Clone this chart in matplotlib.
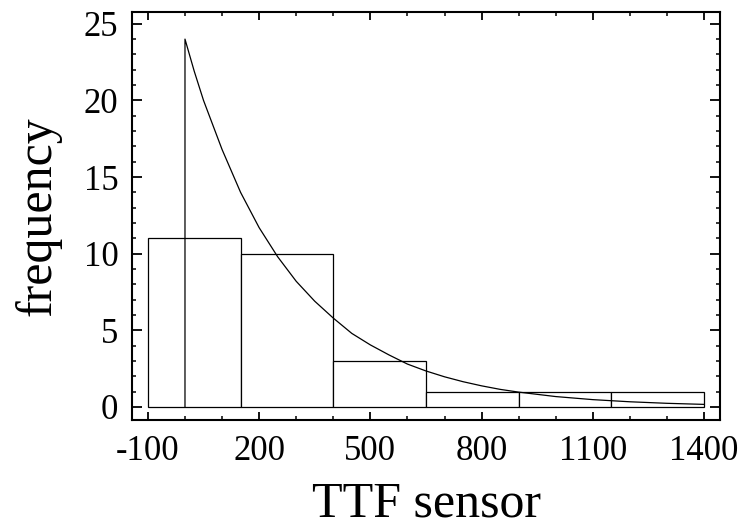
import matplotlib
matplotlib.use("Agg")
import matplotlib.pyplot as plt
from matplotlib.ticker import MultipleLocator, FixedLocator

plt.rcParams['font.family'] = ['Liberation Serif', 'DejaVu Serif']

# Histogram data
bin_edges = [-100, 150, 400, 650, 900, 1150, 1400]
counts = [11, 10, 3, 1, 1, 1]

# Fitted curve points
curve_x = [0, 0, 25, 50, 100, 150, 200, 250, 300, 350, 400, 450, 500, 550, 600,
           650, 700, 750, 800, 850, 900, 1000, 1100, 1200, 1300, 1400]
curve_y = [0, 24.0, 21.9, 20.0, 16.8, 14.0, 11.7, 9.8, 8.2, 6.9, 5.8, 4.8, 4.05,
           3.4, 2.8, 2.35, 1.97, 1.65, 1.38, 1.15, 0.97, 0.68, 0.48, 0.34, 0.24, 0.17]

xticks = [-100, 200, 500, 800, 1100, 1400]
yticks = [0, 5, 10, 15, 20, 25]

fig = plt.figure(figsize=(7.46, 5.27), dpi=100)
ax = fig.add_axes([0.1774, 0.2030, 0.9651 - 0.1774, 0.9767 - 0.2030])

lefts = bin_edges[:-1]
widths = [b - a for a, b in zip(bin_edges[:-1], bin_edges[1:])]
ax.bar(lefts, counts, width=widths, align='edge', facecolor='white',
       edgecolor='black', linewidth=0.9, zorder=2)
ax.plot(curve_x, curve_y, color='black', linewidth=0.9, zorder=3)

ax.set_xlim(-142, 1443)
ax.set_ylim(-0.85, 25.75)
ax.xaxis.set_major_locator(FixedLocator(xticks))
ax.xaxis.set_minor_locator(MultipleLocator(100))
ax.yaxis.set_major_locator(FixedLocator(yticks))
ax.yaxis.set_minor_locator(MultipleLocator(1))
ax.set_xticklabels([str(v) for v in xticks])
ax.set_yticklabels([str(v) for v in yticks])

for s in ax.spines.values():
    s.set_linewidth(1.5)

ax.tick_params(axis='x', which='major', direction='in', length=5.5, width=1.3,
               top=True, bottom=True, labelsize=25, pad=11)
ax.tick_params(axis='x', which='minor', direction='in', length=3, width=1.1,
               top=True, bottom=True)
ax.tick_params(axis='y', which='major', direction='in', length=7, width=1.3,
               left=True, right=True, labelsize=25, pad=10)
ax.tick_params(axis='y', which='minor', direction='in', length=3.2, width=1.1,
               left=True, right=True)

ax.set_xlabel('TTF sensor', fontsize=36, labelpad=9)
ax.set_ylabel('frequency', fontsize=36, labelpad=16)

fig.savefig('out.png', dpi=100)
